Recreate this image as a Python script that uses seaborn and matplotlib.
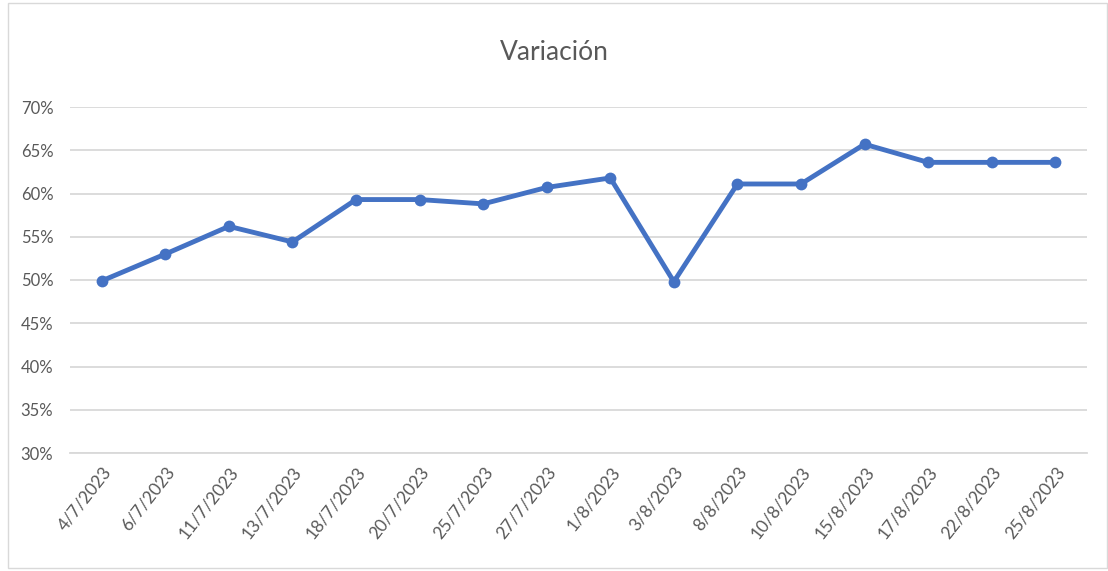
import matplotlib
matplotlib.use("Agg")
import matplotlib.pyplot as plt
from matplotlib.patches import Rectangle
from matplotlib.ticker import PercentFormatter, FixedLocator
import seaborn as sns
import pandas as pd
import numpy as np

fechas = ["4/7/2023", "6/7/2023", "11/7/2023", "13/7/2023", "18/7/2023", "20/7/2023",
          "25/7/2023", "27/7/2023", "1/8/2023", "3/8/2023", "8/8/2023", "10/8/2023",
          "15/8/2023", "17/8/2023", "22/8/2023", "25/8/2023"]
variacion = [49.9, 53.0, 56.2, 54.4, 59.3, 59.3, 58.8, 60.7, 61.8, 49.8,
             61.1, 61.1, 65.7, 63.6, 63.6, 63.6]
y_ticks = [30, 35, 40, 45, 50, 55, 60, 65, 70]

sns.set_theme(style = "white")
plt.rcParams["font.family"] = ["Lato", "DejaVu Sans"]

azul = "#4472C4"
gris_txt = "#595959"
gris_grid = "#D9D9D9"

df = pd.DataFrame({"pos": np.arange(len(fechas)), "valor": variacion})

fig = plt.figure(figsize = (11.08, 5.71), dpi = 100)
ax = fig.add_axes([70 / 1108, 1 - 453 / 571, 1017 / 1108, 346 / 571])

sns.lineplot(data = df, x = "pos", y = "valor", ax = ax, color = azul, linewidth = 3.5,
             marker = "o", markersize = 8.5, markeredgewidth = 0, zorder = 3)

ax.set_xlim(-0.5, len(fechas) - 0.5)
ax.set_ylim(min(y_ticks), max(y_ticks))
ax.set_yticks(y_ticks)
ax.yaxis.set_major_formatter(PercentFormatter(decimals = 0))
ax.set_xticks(df["pos"])
ax.set_xticklabels(fechas, rotation = 52, ha = "right", rotation_mode = "anchor")
ax.xaxis.set_minor_locator(FixedLocator(np.arange(len(fechas) + 1) - 0.5))

ax.grid(axis = "y", color = gris_grid, linewidth = 1.3)
ax.set_axisbelow(True)
for s in ["top", "right", "left"]:
    ax.spines[s].set_visible(False)
ax.spines["bottom"].set_color(gris_grid)
ax.spines["bottom"].set_linewidth(1.3)

ax.tick_params(axis = "x", which = "major", length = 0, pad = 8, labelsize = 12.5, labelcolor = gris_txt)
ax.tick_params(axis = "x", which = "minor", length = 7, width = 1.1, color = gris_grid, direction = "out")
ax.tick_params(axis = "y", length = 0, pad = 12, labelsize = 12, labelcolor = gris_txt)
ax.set_xlabel("")
ax.set_ylabel("")

fig.text(0.5, 1 - 52 / 571, "Variación", ha = "center", va = "center", fontsize = 19, color = gris_txt)

fig.patches.append(Rectangle((8 / 1108, 0.005), 1 - 9 / 1108, 0.99, transform = fig.transFigure,
                             fill = False, edgecolor = gris_grid, linewidth = 1))

fig.savefig("out.png", dpi = 100)
